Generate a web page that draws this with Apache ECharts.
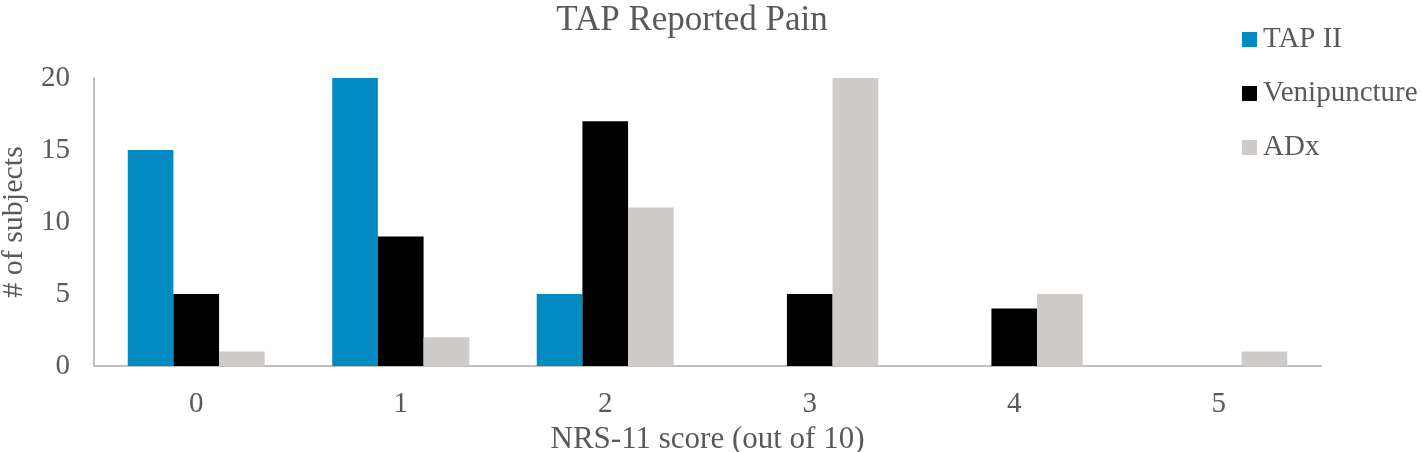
<!DOCTYPE html>
<html>
<head>
<meta charset="utf-8">
<script src="https://cdn.jsdelivr.net/npm/echarts@6/dist/echarts.min.js"></script>
<style>
  html, body { margin: 0; padding: 0; background: #fff; }
  #chart { width: 1421px; height: 452px; }
</style>
</head>
<body>
<div id="chart"></div>
<script>
// Data
const scores = ['0', '1', '2', '3', '4', '5'];
const tapII = [15, 20, 5, 0, 0, 0];
const venipuncture = [5, 9, 17, 5, 4, 0];
const adx = [1, 2, 11, 20, 5, 1];
const yTicks = { min: 0, max: 20, interval: 5 };

var chartDom = document.getElementById('chart');
var myChart = echarts.init(chartDom);
var font = 'Liberation Serif';
var textColor = '#595959';

var option = {
  animation: false,
  textStyle: { fontFamily: font, color: textColor },
  title: {
    text: 'TAP Reported Pain',
    left: 692,
    textAlign: 'center',
    top: 3,
    padding: 0,
    textStyle: { fontFamily: font, fontSize: 35, fontWeight: 'normal', color: textColor },
  },
  legend: {
    orient: 'vertical',
    left: 1242,
    top: 25,
    padding: 0,
    itemGap: 25,
    itemWidth: 15,
    itemHeight: 15,
    icon: 'rect',
    textStyle: { fontFamily: font, fontSize: 29, color: textColor, padding: [0, 0, 0, 1] },
    data: ['TAP II', 'Venipuncture', 'ADx'],
  },
  grid: { left: 94, right: 100, top: 78, bottom: 86, containLabel: false, outerBoundsMode: 'none' },
  xAxis: {
    type: 'category',
    data: scores,
    name: 'NRS-11 score (out of 10)',
    nameLocation: 'middle',
    nameGap: 49,
    nameTextStyle: { fontFamily: font, fontSize: 31, color: textColor },
    axisLine: { lineStyle: { color: '#BFBFBF', width: 2 } },
    axisTick: { show: false },
    axisLabel: { fontFamily: font, fontSize: 29, color: textColor, margin: 24 },
  },
  yAxis: {
    type: 'value',
    min: yTicks.min,
    max: yTicks.max,
    interval: yTicks.interval,
    name: '# of subjects',
    nameLocation: 'middle',
    nameGap: 65,
    nameTextStyle: { fontFamily: font, fontSize: 30, color: textColor },
    axisLine: { show: true, lineStyle: { color: '#BFBFBF', width: 2 } },
    axisTick: { show: false },
    splitLine: { show: false },
    axisLabel: { fontFamily: font, fontSize: 29, color: textColor, margin: 24 },
  },
  series: [
    {
      name: 'TAP II',
      type: 'bar',
      barGap: '0%',
      barCategoryGap: '33%',
      itemStyle: { color: '#028BC0' },
      data: tapII,
    },
    {
      name: 'Venipuncture',
      type: 'bar',
      itemStyle: { color: '#000000' },
      data: venipuncture,
    },
    {
      name: 'ADx',
      type: 'bar',
      itemStyle: { color: '#CFCBC8' },
      data: adx,
    },
  ],
};

option && myChart.setOption(option);
</script>
</body>
</html>
